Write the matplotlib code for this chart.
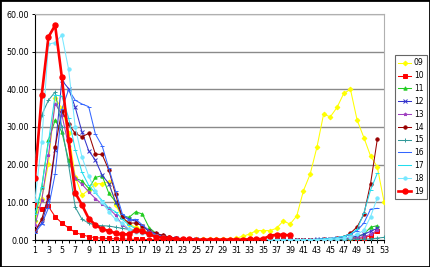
import numpy as np
import matplotlib
matplotlib.use("Agg")
import matplotlib.pyplot as plt
from matplotlib.patches import Rectangle

nan = np.nan
weeks = list(range(1, 54))

# weekly values per season label (week 1..53)
s09 = [5.1, 11.0, 20.3, 37.6, 35.0, 28.5, 16.8, 11.9, 13.3, 14.9, 15.0, 15.5, 9.3,
       6.0, 4.2, 3.4, 2.8, 1.9, 1.2, 0.7, 0.4, 0.3, 0.2, 0.2, 0.2, 0.2, 0.2, 0.3,
       0.3, 0.3, 0.5, 1.0, 1.6, 2.5, 2.5, 2.5, 3.1, 5.1, 4.2, 6.4, 13.1, 17.5, 24.6,
       33.4, 32.7, 35.2, 38.9, 40.0, 31.8, 27.2, 22.3, 19.4, 10.2]
s10 = [9.2, 8.2, 8.9, 6.2, 4.5, 3.2, 2.0, 1.4, 0.9, 0.6, 0.5, 0.4, 0.3, 0.3, 0.2,
       0.2, 0.2, 0.1, 0.1, 0.1, 0.1, 0.1, 0.1, 0.1, 0.1, 0.1, 0.1, 0.1, 0.1, 0.1,
       0.1, 0.1, 0.1, 0.1, 0.1, 0.1, 0.1, 0.1, 0.1, 0.1, 0.1, 0.1, 0.1, 0.1, 0.1,
       0.1, 0.2, 0.3, 0.4, 0.6, 1.1, 2.4, nan]
s11 = [5.7, 14.0, 26.5, 31.8, 28.7, 21.2, 16.4, 15.7, 13.7, 16.6, 17.1, 12.4, 10.2,
       6.5, 6.0, 7.5, 6.9, 3.3, 1.8, 1.2, 0.8, 0.5, 0.3, 0.2, 0.2, 0.1, 0.1, 0.1,
       0.1, 0.1, 0.1, 0.1, 0.1, 0.1, 0.1, 0.1, 0.1, 0.1, 0.1, 0.1, 0.1, 0.1, 0.1,
       0.1, 0.1, 0.2, 0.3, 0.5, 0.9, 1.5, 3.4, 3.8, nan]
s12 = [2.5, 4.5, 10.6, 24.0, 42.4, 40.2, 35.2, 28.7, 23.7, 21.2, 17.2, 15.0, 10.2,
       6.3, 5.5, 5.0, 3.6, 2.3, 1.5, 1.0, 0.6, 0.4, 0.3, 0.2, 0.2, 0.1, 0.1, 0.1,
       0.1, 0.1, 0.1, 0.1, 0.1, 0.1, 0.1, 0.1, 0.1, 0.1, 0.1, 0.1, 0.1, 0.1, 0.2,
       0.2, 0.3, 0.4, 0.5, 0.7, 1.0, 1.5, 2.3, 3.1, nan]
s13 = [4.0, 10.5, 22.5, 36.2, 33.3, 25.0, 16.4, 14.8, 12.8, 11.0, 9.5, 8.4, 6.6,
       4.0, 2.8, 2.4, 2.3, 2.0, 1.8, 1.2, 0.7, 0.4, 0.3, 0.2, 0.1, 0.1, 0.1, 0.1,
       0.1, 0.1, 0.1, 0.1, 0.1, 0.1, 0.1, 0.1, 0.1, 0.1, 0.1, 0.1, 0.1, 0.1, 0.1,
       0.1, 0.1, 0.2, 0.3, 0.4, 0.6, 0.9, 1.5, 2.6, nan]
s14 = [2.3, 5.5, 11.7, 24.7, 34.3, 30.8, 28.3, 27.4, 28.3, 22.8, 22.7, 18.6, 12.1,
       6.0, 4.5, 4.5, 3.8, 2.5, 1.8, 1.2, 0.8, 0.5, 0.3, 0.2, 0.1, 0.1, 0.1, 0.1,
       0.1, 0.1, 0.1, 0.1, 0.1, 0.1, 0.1, 0.1, 0.1, 0.1, 0.1, 0.1, 0.1, 0.1, 0.1,
       0.2, 0.3, 0.5, 0.9, 1.8, 3.5, 6.8, 15.0, 26.7, nan]
s15 = [21.5, 33.2, 37.1, 39.3, 30.0, 20.0, 8.7, 5.5, 4.5, 3.9, 3.8, 3.7, 3.4,
       3.1, 2.8, 2.5, 2.1, 1.6, 1.0, 0.6, 0.4, 0.2, 0.1, 0.1, 0.1, 0.1, 0.1, 0.1,
       0.1, 0.1, 0.1, 0.1, 0.1, 0.1, 0.1, 0.1, 0.1, 0.1, 0.1, 0.1, 0.1, 0.1, 0.1,
       0.1, 0.1, 0.1, 0.1, 0.2, 0.2, 0.2, 0.3, 0.5, 0.7]
s16 = [1.9, 4.2, 8.5, 17.5, 34.7, 39.9, 37.1, 36.1, 35.4, 28.1, 25.0, 19.0, 13.0,
       7.0, 5.3, 5.5, 4.0, 2.5, 1.5, 0.9, 0.6, 0.4, 0.3, 0.2, 0.2, 0.1, 0.1, 0.1,
       0.1, 0.1, 0.1, 0.1, 0.1, 0.1, 0.1, 0.1, 0.1, 0.1, 0.1, 0.1, 0.1, 0.1, 0.2,
       0.3, 0.4, 0.6, 0.9, 1.5, 2.5, 4.5, 8.2, 8.4, nan]
s17 = [7.0, 14.0, 26.0, 38.5, 38.2, 32.5, 24.0, 18.0, 14.5, 12.5, 10.5, 8.5, 7.5,
       5.5, 4.0, 3.0, 2.5, 1.8, 1.2, 0.8, 0.5, 0.3, 0.2, 0.1, 0.1, 0.1, 0.1, 0.1,
       0.1, 0.1, 0.1, 0.1, 0.1, 0.1, 0.1, 0.1, 0.1, 0.1, 0.1, 0.1, 0.1, 0.1, 0.2,
       0.3, 0.4, 0.6, 1.0, 1.6, 2.8, 7.2, 13.3, 17.7, nan]
s18 = [10.6, 26.0, 52.0, 52.4, 54.4, 45.4, 29.9, 22.0, 17.0, 13.0, 10.0, 7.5, 5.5,
       4.5, 3.0, 2.2, 1.8, 1.4, 1.0, 0.7, 0.4, 0.3, 0.2, 0.2, 0.1, 0.1, 0.1, 0.1,
       0.1, 0.1, 0.1, 0.1, 0.1, 0.1, 0.1, 0.1, 0.1, 0.1, 0.1, 0.1, 0.1, 0.1, 0.1,
       0.1, 0.2, 0.3, 0.5, 0.9, 1.5, 2.6, 6.2, 11.2, nan]
s19 = [16.4, 38.5, 53.9, 57.0, 43.2, 26.5, 12.5, 9.3, 5.7, 4.0, 2.9, 2.4, 1.8,
       1.5, 1.5, 2.7, 2.4, 1.5, 0.9, 0.6, 0.4, 0.3, 0.2, 0.2, 0.1, 0.1, 0.1, 0.1,
       0.1, 0.1, 0.1, 0.1, 0.2, 0.2, 0.3, 1.1, 1.4, 1.4, 1.2] + [nan] * 14

labels = ['09', '10', '11', '12', '13', '14', '15', '16', '17', '18', '19']
series = [s09, s10, s11, s12, s13, s14, s15, s16, s17, s18, s19]
colors = ['#FFFF00', '#FF0000', '#22CC22', '#3333CC', '#A040C0', '#990000',
          '#339999', '#3366FF', '#22DDEE', '#77E8FF', '#FF0000']
markers = ['D', 's', '^', 'x', '*', 'o', '+', '_', '_', 'o', 'o']

fig = plt.figure(figsize=(4.3, 2.67), dpi=100)
ax = fig.add_axes([35 / 430, 1 - 240 / 267, (384 - 35) / 430, (240 - 14) / 267])

for lab, vals, c, m in zip(labels, series, colors, markers):
    if lab == '19':
        ax.plot(weeks, vals, color=c, marker=m, markersize=3.6, linewidth=1.9,
                label=lab, zorder=5)
    else:
        ax.plot(weeks, vals, color=c, marker=m, markersize=2.4, linewidth=0.75,
                markeredgewidth=0.7, label=lab, zorder=3)

ax.set_xlim(1, 53)
ax.set_ylim(0, 60)
ax.set_yticks(range(0, 61, 10))
ax.set_yticklabels(['%.2f' % v for v in range(0, 61, 10)])
ax.set_xticks(weeks)
ax.set_xticklabels([str(w) if w % 2 == 1 else '' for w in weeks])
ax.tick_params(axis='both', labelsize=5.8, length=2.5, width=0.7, pad=2,
               color='#000000')
ax.grid(axis='y', color='#8a8a8a', linewidth=1.0)
ax.set_axisbelow(True)
for side in ['top', 'right']:
    ax.spines[side].set_color('#b0b0b0')
    ax.spines[side].set_linewidth(0.8)
for side in ['left', 'bottom']:
    ax.spines[side].set_color('#000000')
    ax.spines[side].set_linewidth(0.8)

leg = fig.legend(loc='center left', bbox_to_anchor=(395 / 430, 1 - 127 / 267),
                 fontsize=5.5, frameon=True, fancybox=False, handlelength=1.7,
                 handletextpad=0.3, labelspacing=0.5, borderpad=0.45,
                 borderaxespad=0)
leg.get_frame().set_edgecolor('#404040')
leg.get_frame().set_linewidth(0.8)

fig.patches.append(Rectangle((0, 0), 1, 1, transform=fig.transFigure,
                             fill=False, edgecolor='black', linewidth=2.0))

fig.savefig('out.png', dpi=100)
